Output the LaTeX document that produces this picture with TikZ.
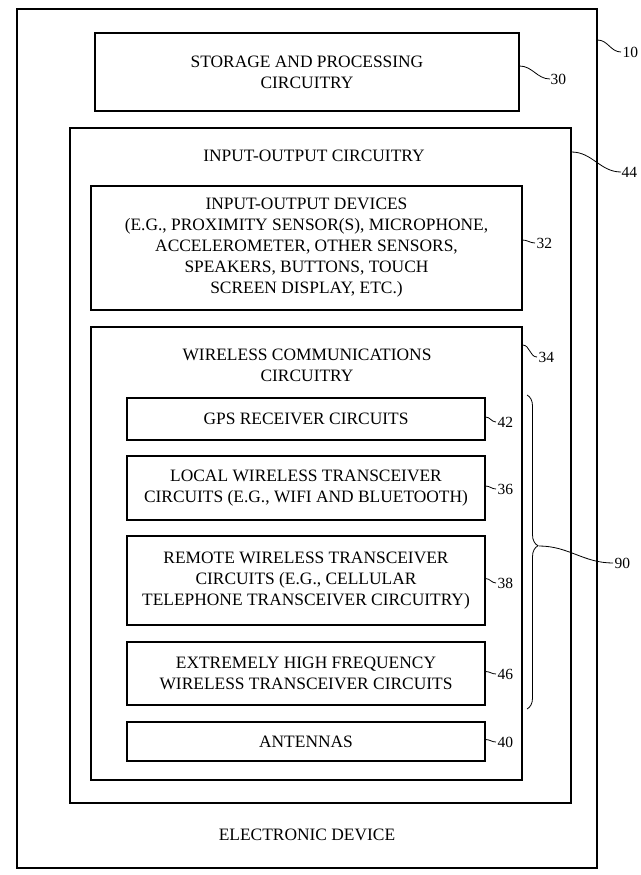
\documentclass[tikz,border=0pt]{standalone}
\usepackage{fontspec}
\setmainfont{Liberation Serif}
\usetikzlibrary{positioning, decorations.pathreplacing}
\tikzset{>=stealth}

\begin{document}
\begin{tikzpicture}[x=1pt, y=-1pt, line width=1.1pt,
  box/.style={draw, inner sep=0pt, align=center},
  ref/.style={anchor=west, inner sep=0pt, font=\fontsize{15.5}{18}\selectfont},
  font=\fontsize{17.4}{21}\selectfont]
\useasboundingbox (0,0) rectangle (640,875);

% outer device and its blocks
\node[box, minimum width=580pt, minimum height=859pt](dev) at (307,438.5){};
\node(devtxt) at (307,835){ELECTRONIC DEVICE};
\node[box, minimum width=424pt, minimum height=78pt](storage) at (307,72){STORAGE AND PROCESSING\\CIRCUITRY};
\node[box, minimum width=501pt, minimum height=675pt](ioc) at (320.5,465.5){};
\node(ioctxt) at (314,156){INPUT-OUTPUT CIRCUITRY};
\node[box, minimum width=431pt, minimum height=124pt](iod) at (306.5,248){INPUT-OUTPUT DEVICES\\(E.G., PROXIMITY SENSOR(S), MICROPHONE,\\ACCELEROMETER, OTHER SENSORS,\\SPEAKERS, BUTTONS, TOUCH\\SCREEN DISPLAY, ETC.)};
\node[box, minimum width=431pt, minimum height=453pt](wcc) at (306.5,553.5){};
\node[align=center](wcctxt) at (307,365){WIRELESS COMMUNICATIONS\\CIRCUITRY};

% wireless circuits
\node[box, minimum width=358pt, minimum height=42pt](gps) at (306,419){GPS RECEIVER CIRCUITS};
\node[box, minimum width=358pt, minimum height=64pt](local) at (306,488){LOCAL WIRELESS TRANSCEIVER\\CIRCUITS (E.G., WIFI AND BLUETOOTH)};
\node[box, minimum width=358pt, minimum height=89pt](remote) at (306,580.5){REMOTE WIRELESS TRANSCEIVER\\CIRCUITS (E.G., CELLULAR\\TELEPHONE TRANSCEIVER CIRCUITRY)};
\node[box, minimum width=358pt, minimum height=63pt](ehf) at (306,673.5){EXTREMELY HIGH FREQUENCY\\WIRELESS TRANSCEIVER CIRCUITS};
\node[box, minimum width=358pt, minimum height=39pt](ant) at (306,741.5){ANTENNAS};

% reference numerals
\node[ref](r10) at (622,52){10};
\node[ref](r30) at (550,79){30};
\node[ref](r44) at (621,172){44};
\node[ref](r32) at (536,243){32};
\node[ref](r34) at (538,357){34};
\node[ref](r42) at (497,422){42};
\node[ref](r36) at (497,489){36};
\node[ref](r38) at (497,583){38};
\node[ref](r46) at (497,674){46};
\node[ref](r40) at (497,742){40};
\node[ref](r90) at (614,563){90};

\draw[line width=0.8pt](dev.east) ++(0,-398.5) to[out=0, in=180] ([xshift=-1pt]r10.west);
\draw[line width=0.8pt](storage.east) ++(0,-6) to[out=0, in=180] (r30.west);
\draw[line width=0.8pt](ioc.east) ++(0,-313.5) to[out=0, in=180] (r44.west);
\draw[line width=0.8pt](iod.east) ++(0,-8) to[out=0, in=180] ([xshift=-1pt]r32.west);
\draw[line width=0.8pt](wcc.east) ++(0,-208.5) to[out=0, in=180] ([xshift=-1pt]r34.west);
\draw[line width=0.8pt](gps.east) ++(0,-2) to[out=0, in=180] ([xshift=-1pt]r42.west);
\draw[line width=0.8pt](local.east) ++(0,-2) to[out=0, in=180] ([xshift=-1pt]r36.west);
\draw[line width=0.8pt](remote.east) ++(0,-2) to[out=0, in=180] ([xshift=-1pt]r38.west);
\draw[line width=0.8pt](ehf.east) ++(0,-2) to[out=0, in=180] ([xshift=-1pt]r46.west);
\draw[line width=0.8pt](ant.east) ++(0,-2) to[out=0, in=180] ([xshift=-1pt]r40.west);

% brace over the transceiver blocks
\draw[line width=0.8pt, decorate, decoration={brace, amplitude=11pt, aspect=0.48}](527,395)--(527,709);
\coordinate(b90) at (539,546);
\draw[line width=0.8pt](b90) to[out=0, in=180] ([xshift=-1pt]r90.west);

    \end{tikzpicture}
\end{document}
